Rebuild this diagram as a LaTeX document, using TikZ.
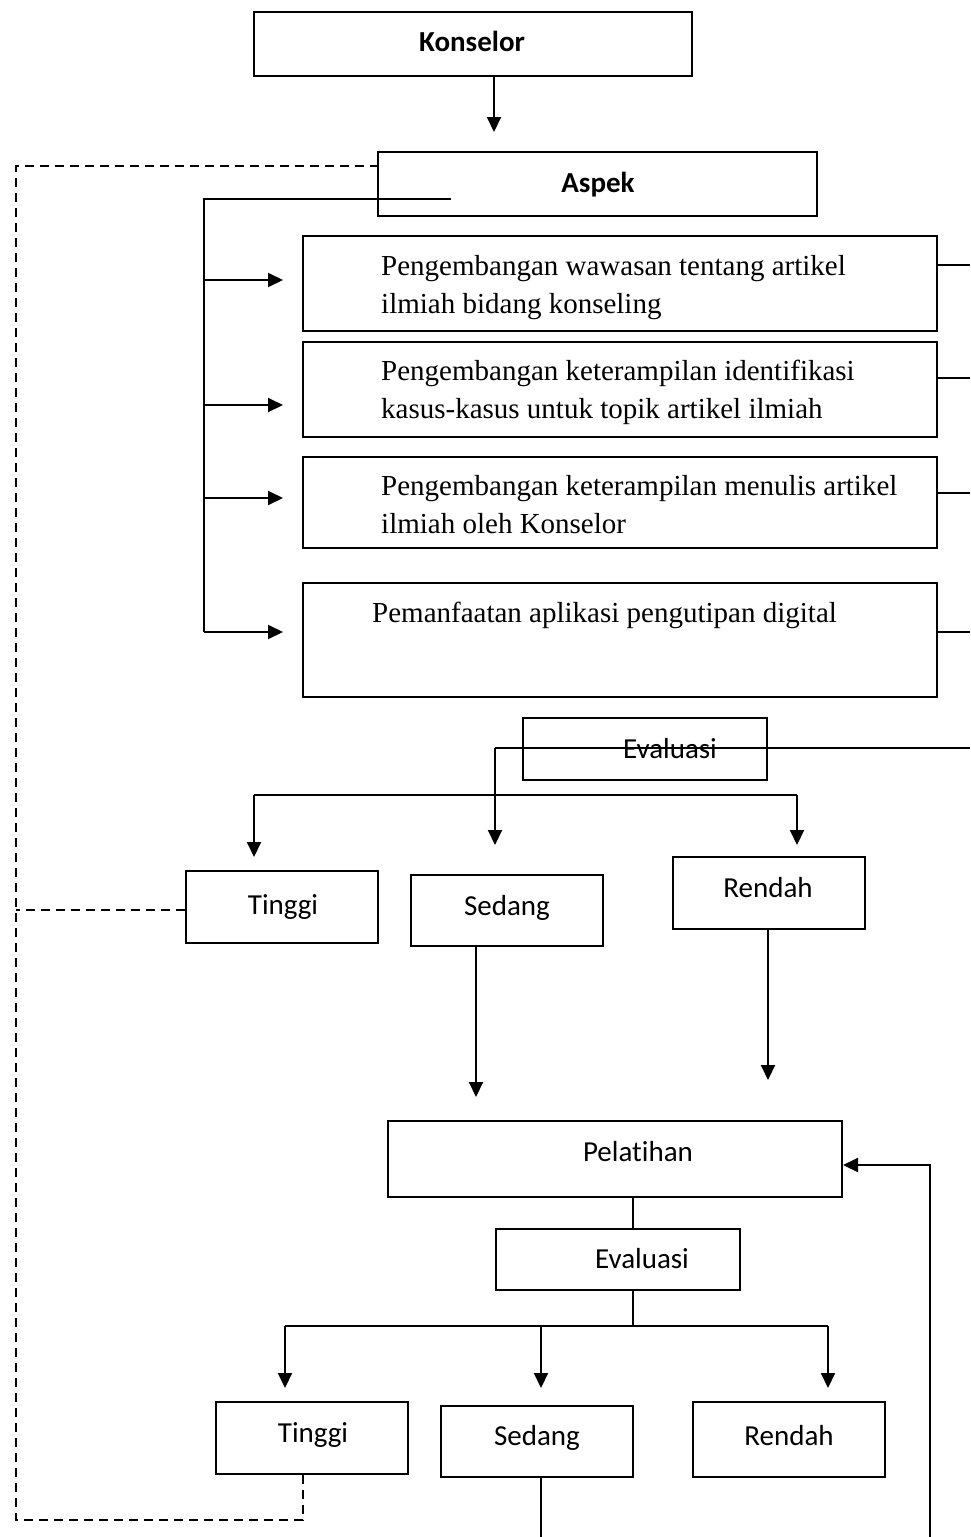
\documentclass[tikz,border=0pt]{standalone}
\usepackage{fontspec}
\setmainfont{Liberation Serif}
\newfontfamily\calfont[Ligatures=NoCommon]{Carlito}
\usetikzlibrary{arrows.meta}
\begin{document}
\begin{tikzpicture}[x=1pt,y=-1pt,
  ln/.style={line width=2pt},
  arr/.style={line width=2pt,-{Triangle[length=15pt,width=14pt]}},
  dsh/.style={line width=1.7pt,dash pattern=on 9pt off 6pt},
  box/.style={draw,line width=2pt,inner sep=0pt},
  sans/.style={font=\calfont\fontsize{29}{35}\selectfont,inner sep=0pt,anchor=base},
  bsans/.style={font=\calfont\bfseries\fontsize{29}{35}\selectfont,inner sep=0pt,anchor=base},
  serif/.style={font=\fontsize{29}{38}\selectfont,align=left,inner sep=0pt,anchor=base west}]
\useasboundingbox (0,0) rectangle (970,1537);

% boxes
\node[box,minimum width=438pt,minimum height=64pt] (konselor) at (473,44) {};
\node[box,minimum width=439pt,minimum height=64pt] (aspek) at (597.5,184) {};
\node[box,minimum width=634pt,minimum height=95pt] (b1) at (620,283.5) {};
\node[box,minimum width=634pt,minimum height=95pt] (b2) at (620,389.5) {};
\node[box,minimum width=634pt,minimum height=91pt] (b3) at (620,502.5) {};
\node[box,minimum width=634pt,minimum height=114pt] (b4) at (620,640) {};
\node[box,minimum width=244pt,minimum height=62pt] (ev1) at (645,749) {};
\node[box,minimum width=192pt,minimum height=72pt] (t1) at (282,907) {};
\node[box,minimum width=192pt,minimum height=71pt] (s1) at (507,910.5) {};
\node[box,minimum width=192pt,minimum height=72pt] (r1) at (769,893) {};
\node[box,minimum width=454pt,minimum height=76pt] (pel) at (615,1159) {};
\node[box,minimum width=244pt,minimum height=61pt] (ev2) at (618,1259.5) {};
\node[box,minimum width=192pt,minimum height=72pt] (t2) at (312,1438) {};
\node[box,minimum width=192pt,minimum height=71pt] (s2) at (537,1441.5) {};
\node[box,minimum width=192pt,minimum height=75pt] (r2) at (789,1439.5) {};

% texts
\node[bsans] (tkon) at (472,51) {Konselor};
\node[bsans] (tasp) at (598,192) {Aspek};
\node[serif] (tb1) at (381,313) {Pengembangan wawasan tentang artikel\\ilmiah bidang konseling};
\node[serif] (tb2) at (381,418) {Pengembangan keterampilan identifikasi\\kasus-kasus untuk topik artikel ilmiah};
\node[serif] (tb3) at (381,533) {Pengembangan keterampilan menulis artikel\\ilmiah oleh Konselor};
\node[serif] (tb4) at (372,622) {Pemanfaatan aplikasi pengutipan digital};
\node[sans] (tev1) at (670,758) {Evaluasi};
\node[sans] (tt1) at (283,914) {Tinggi};
\node[sans] (ts1) at (507,915) {Sedang};
\node[sans] (tr1) at (768,897) {Rendah};
\node[sans] (tpel) at (638,1161) {Pelatihan};
\node[sans] (tev2) at (642,1268) {Evaluasi};
\node[sans] (tt2) at (313,1442) {Tinggi};
\node[sans] (ts2) at (537,1445) {Sedang};
\node[sans] (tr2) at (789,1445) {Rendah};

% helper coordinates
\coordinate (kend) at (494,132);
\coordinate (aspin) at (451,199);
\coordinate (bus) at (204,199);
\coordinate (busend) at (204,632);
\coordinate (rightev) at (970,748);
\coordinate (evturn) at (495,748);
\coordinate (midtip) at (495,845);
\coordinate (hl) at (254,795);
\coordinate (hr) at (797,795);
\coordinate (dtl) at (16,166);
\coordinate (dbl) at (16,1520);
\coordinate (dbr) at (303,1520);
\coordinate (dmid) at (16,910);
\coordinate (evbus) at (633,1326);
\coordinate (bl) at (285,1326);
\coordinate (br) at (828,1326);
\coordinate (fbk) at (930,1537);
\coordinate (sbot) at (541,1537);

% Konselor -> (towards) Aspek
\draw[arr] (konselor.south -| kend) -- (kend);

% Aspek bus
\draw[ln] (aspin) -- (bus) -- (busend);
\draw[arr] (204,280) -- (283,280);
\draw[arr] (204,405) -- (283,405);
\draw[arr] (204,498) -- (283,498);
\draw[arr] (busend) -- (283,632);

% right stubs
\draw[ln] (b1.east |- 0,265) -- (970,265);
\draw[ln] (b2.east |- 0,378) -- (970,378);
\draw[ln] (b3.east |- 0,493) -- (970,493);
\draw[ln] (b4.east |- 0,632) -- (970,632);

% evaluation line
\draw[ln] (rightev) -- (evturn);
\draw[arr] (evturn) -- (midtip);
\draw[ln] (hl) -- (hr);
\draw[arr] (hl) -- (254,857);
\draw[arr] (hr) -- (797,845);

% to Pelatihan
\draw[arr] (s1.south -| 476,0) -- (476,1097);
\draw[arr] (r1.south -| 768,0) -- (768,1080);

% Pelatihan - Evaluasi
\draw[ln] (pel.south -| evbus) -- (ev2.north -| evbus);
\draw[ln] (ev2.south -| evbus) -- (evbus);
\draw[ln] (bl) -- (br);
\draw[arr] (bl) -- (285,1388);
\draw[arr] (541,1326) -- (541,1388);
\draw[arr] (br) -- (828,1388);

% bottom lines
\draw[ln] (s2.south -| sbot) -- (sbot);
\draw[arr] (fbk) -- (930,1165) -- (pel.east |- 0,1165);

% dashed feedback
\draw[dsh] (t2.south -| dbr) -- (dbr) -- (dbl) -- (dtl) -- (aspek.west |- dtl);
\draw[dsh] (t1.west |- dmid) -- (dmid);
\end{tikzpicture}
\end{document}
